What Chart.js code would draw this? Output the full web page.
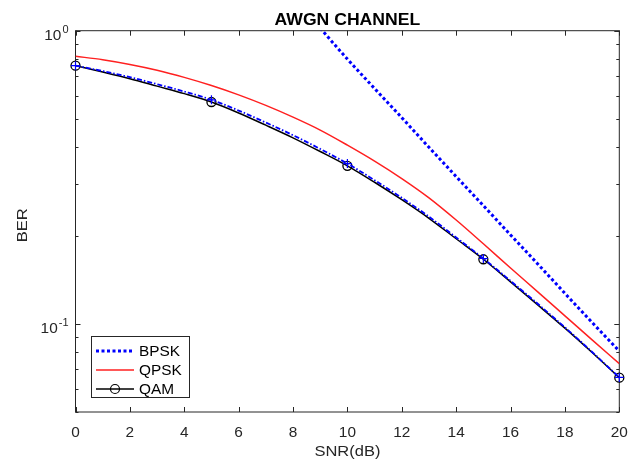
<!DOCTYPE html>
<html>
<head>
<meta charset="utf-8">
<script src="https://cdn.jsdelivr.net/npm/chart.js@4.4.0/dist/chart.umd.min.js"></script>
<style>
  html, body { margin: 0; padding: 0; background: #fff; }
</style>
</head>
<body>
<canvas id="berChart" width="643" height="460"></canvas>
<script>
// ===== DATA =====
const snrDb = [0, 1, 2, 3, 4, 5, 6, 7, 8, 9, 10, 11, 12, 13, 14, 15, 16, 17, 18, 19, 20];
const qpskBer = [0.818, 0.796, 0.767, 0.733, 0.693, 0.650, 0.604, 0.556, 0.507, 0.458, 0.407,
                 0.359, 0.313, 0.269, 0.226, 0.1875, 0.155, 0.1285, 0.1064, 0.0881, 0.0731];
const qamBer = [0.760, 0.723, 0.686, 0.647, 0.610, 0.571, 0.524, 0.476, 0.431, 0.387, 0.346,
                0.304, 0.265, 0.229, 0.195, 0.166, 0.139, 0.116, 0.0966, 0.0798, 0.0655];
const qamRefBer = [0.760, 0.728, 0.694, 0.657, 0.620, 0.581, 0.534, 0.486, 0.440, 0.395, 0.352,
                   0.309, 0.269, 0.232, 0.197, 0.167, 0.140, 0.117, 0.0972, 0.0801, 0.0656];
const bpskSnr = [9, 10, 11, 12, 13, 14, 15, 16, 17, 18, 19, 20];
const bpskBer = [1.02, 0.80, 0.635, 0.505, 0.40, 0.318, 0.253, 0.201, 0.16, 0.127, 0.101, 0.0807];
const markerSnr = [0, 5, 10, 15, 20];

const xTicks = [0, 2, 4, 6, 8, 10, 12, 14, 16, 18, 20];
const yMajorTicks = [1, 0.1];
const yMajorExp = ["0", "-1"];
const yMinorTicks = [0.05, 0.06, 0.07, 0.08, 0.09, 0.2, 0.3, 0.4, 0.5, 0.6, 0.7, 0.8, 0.9];

const toPoints = (xs, ys) => xs.map((x, i) => ({ x: x, y: ys[i] }));
const markerRadius = (r) => (ctx) => (ctx.raw && markerSnr.includes(ctx.raw.x) ? r : 0);

const AXIS = "#262626";
const FONT = "'Liberation Sans', Arial, sans-serif";
const STRETCH = 1.1; // the reference text is a little wide

// text drawn slightly stretched horizontally, like the reference
function drawText(ctx, text, x, y, align) {
  ctx.save();
  ctx.translate(x, y);
  ctx.scale(STRETCH, 1);
  ctx.textAlign = align;
  ctx.fillText(text, 0, 0);
  ctx.restore();
}

// ===== MATLAB-STYLE AXES, LABELS AND LEGEND =====
const matlabAxes = {
  id: "matlabAxes",
  beforeDatasetsDraw(chart) {
    const { ctx, chartArea: a, scales: { x, y } } = chart;
    ctx.save();
    ctx.strokeStyle = AXIS;
    ctx.lineWidth = 1;
    ctx.strokeRect(a.left, a.top, a.right - a.left, a.bottom - a.top);
    ctx.beginPath();
    xTicks.forEach((t) => {
      const px = Math.round(x.getPixelForValue(t)) + 0.5;
      ctx.moveTo(px, a.bottom); ctx.lineTo(px, a.bottom - 5);
      ctx.moveTo(px, a.top); ctx.lineTo(px, a.top + 5);
    });
    yMajorTicks.forEach((t) => {
      const py = Math.round(y.getPixelForValue(t)) + 0.5;
      ctx.moveTo(a.left, py); ctx.lineTo(a.left + 5, py);
      ctx.moveTo(a.right, py); ctx.lineTo(a.right - 5, py);
    });
    yMinorTicks.forEach((t) => {
      const py = Math.round(y.getPixelForValue(t)) + 0.5;
      ctx.moveTo(a.left, py); ctx.lineTo(a.left + 3, py);
      ctx.moveTo(a.right, py); ctx.lineTo(a.right - 3, py);
    });
    ctx.stroke();
    ctx.restore();
  },
  afterDraw(chart) {
    const { ctx, chartArea: a, scales: { x, y } } = chart;
    ctx.save();
    ctx.fillStyle = AXIS;
    ctx.textBaseline = "alphabetic";

    // x tick labels
    ctx.font = "14px " + FONT;
    xTicks.forEach((t) => drawText(ctx, String(t), x.getPixelForValue(t), 437, "center"));

    // y tick labels 10^n
    yMajorTicks.forEach((t, i) => {
      const py = y.getPixelForValue(t);
      ctx.font = "10px " + FONT;
      const wSup = ctx.measureText(yMajorExp[i]).width * STRETCH;
      drawText(ctx, yMajorExp[i], a.left - 7 - wSup, py + 2, "left");
      ctx.font = "14px " + FONT;
      drawText(ctx, "10", a.left - 8 - wSup, py + 9, "right");
    });

    // axis titles
    ctx.font = "15px " + FONT;
    drawText(ctx, "SNR(dB)", (a.left + a.right) / 2, 456, "center");
    ctx.save();
    ctx.translate(27, (a.top + a.bottom) / 2 + 4);
    ctx.rotate(-Math.PI / 2);
    drawText(ctx, "BER", 0, 0, "center");
    ctx.restore();

    // title
    ctx.fillStyle = "#000";
    ctx.font = "bold 16px " + FONT;
    drawText(ctx, "AWGN CHANNEL", (a.left + a.right) / 2, 25, "center");

    // legend
    const items = chart.data.datasets.filter((d) => d.inLegend);
    const box = { left: 91, top: 336, width: 98, height: 61 };
    ctx.fillStyle = "#fff";
    ctx.fillRect(box.left, box.top, box.width, box.height);
    ctx.strokeStyle = AXIS;
    ctx.lineWidth = 1;
    ctx.strokeRect(box.left + 0.5, box.top + 0.5, box.width, box.height);
    items.forEach((d, i) => {
      const ly = box.top + 15 + i * 19;
      ctx.save();
      ctx.strokeStyle = d.borderColor;
      ctx.lineWidth = d.borderWidth;
      ctx.setLineDash(d.borderDash || []);
      ctx.beginPath();
      ctx.moveTo(box.left + 5, ly);
      ctx.lineTo(box.left + 43, ly);
      ctx.stroke();
      if (d.pointStyle === "circle") {
        ctx.setLineDash([]);
        ctx.lineWidth = 1.2;
        ctx.strokeStyle = d.pointBorderColor;
        ctx.beginPath();
        ctx.arc(box.left + 24, ly, 4.5, 0, Math.PI * 2);
        ctx.stroke();
      }
      ctx.restore();
      ctx.fillStyle = "#000";
      ctx.font = "14px " + FONT;
      ctx.textBaseline = "middle";
      drawText(ctx, d.label, box.left + 48, ly + 1, "left");
    });
    ctx.restore();
  },
};

// ===== CHART =====
new Chart(document.getElementById("berChart").getContext("2d"), {
  type: "line",
  data: {
    datasets: [
      {
        label: "BPSK",
        inLegend: true,
        data: toPoints(bpskSnr, bpskBer),
        borderColor: "#0000ff",
        borderWidth: 3,
        borderDash: [3, 2.5],
        pointRadius: 0,
        clip: 0,
        order: 3,
      },
      {
        label: "QPSK",
        inLegend: true,
        data: toPoints(snrDb, qpskBer),
        borderColor: "#ff2020",
        borderWidth: 1.5,
        pointRadius: 0,
        order: 2,
      },
      {
        label: "QAM",
        inLegend: true,
        data: toPoints(snrDb, qamBer),
        borderColor: "#000000",
        borderWidth: 1.5,
        pointStyle: "circle",
        pointRadius: markerRadius(4.5),
        pointBorderColor: "#000000",
        pointBackgroundColor: "rgba(0,0,0,0)",
        pointBorderWidth: 1.3,
        clip: false,
        order: 1,
      },
      {
        label: "QAM (ref)",
        inLegend: false,
        data: toPoints(snrDb, qamRefBer),
        borderColor: "#0000ff",
        borderWidth: 1.8,
        borderDash: [5, 2, 1.5, 2],
        pointStyle: "cross",
        pointRadius: markerRadius(4.5),
        pointBorderColor: "#0000ff",
        pointBorderWidth: 1.2,
        clip: false,
        order: 0,
      },
    ],
  },
  options: {
    responsive: false,
    animation: false,
    devicePixelRatio: 1,
    layout: { padding: { left: 75.5, right: 23.7, top: 30.7, bottom: 48 } },
    elements: { line: { fill: false, cubicInterpolationMode: "monotone" } },
    scales: {
      x: { type: "linear", min: 0, max: 20, display: false },
      y: { type: "logarithmic", min: 0.05, max: 1, display: false },
    },
    plugins: { legend: { display: false }, tooltip: { enabled: false } },
  },
  plugins: [matlabAxes],
});
</script>
</body>
</html>
